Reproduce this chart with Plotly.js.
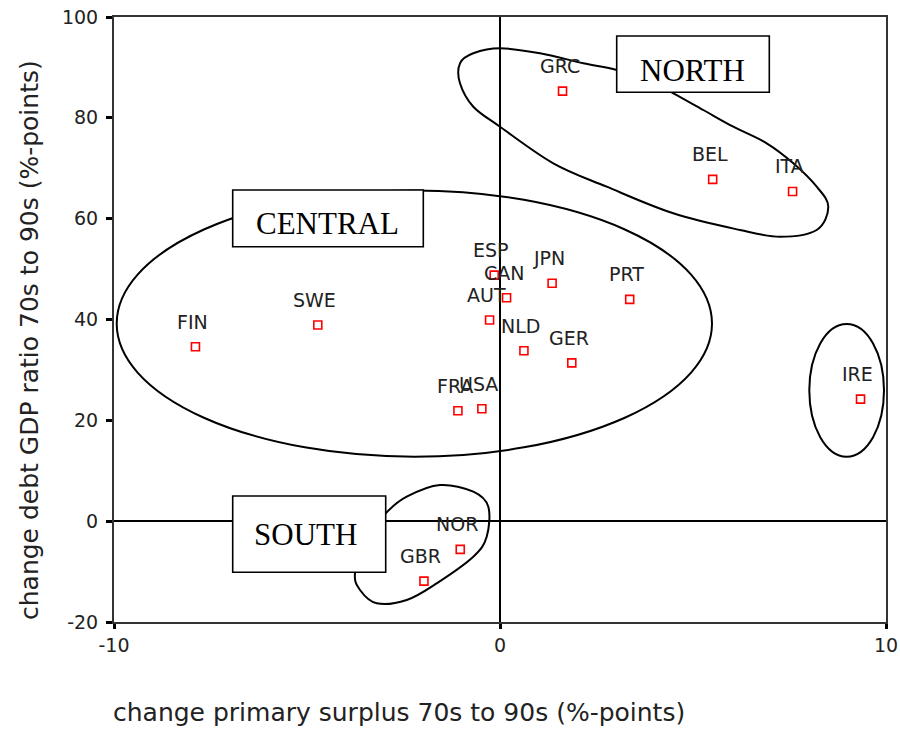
<!DOCTYPE html>
<html>
<head>
<meta charset="utf-8">
<script src="https://cdn.plot.ly/plotly-3.0.1.min.js"></script>
<style>html,body{margin:0;padding:0;background:#fff;}#chart{width:900px;height:733px;}</style>
</head>
<body>
<div id="chart"></div>
<script>
// ---- data ----
const countries = ['GRC','BEL','ITA','ESP','CAN','JPN','PRT','AUT','NLD','GER','FRA','USA','FIN','SWE','NOR','GBR','IRE'];
const surplusChange = [1.62, 5.51, 7.58, -0.15, 0.17, 1.35, 3.36, -0.27, 0.62, 1.86, -1.09, -0.47, -7.89, -4.72, -1.03, -1.97, 9.34];
const debtChange = [85.3, 67.8, 65.4, 48.8, 44.3, 47.2, 44.0, 39.9, 33.8, 31.4, 21.9, 22.3, 34.6, 38.9, -5.6, -11.9, 24.2];
const groupNames = ['NORTH', 'CENTRAL', 'SOUTH'];
const xTicks = [-10, 0, 10];
const xTickLabels = ['-10', '0', '10'];
const yTicks = [-20, 0, 20, 40, 60, 80, 100];
const yTickLabels = ['-20', '0', '20', '40', '60', '80', '100'];
const xTitle = 'change primary surplus 70s to 90s (%-points)';
const yTitle = 'change debt GDP ratio 70s to 90s (%-points)';

// ---- geometry (page pixels) ----
const W = 900, H = 733;
const M = {l: 114, r: 14, t: 17, b: 111};
const PW = W - M.l - M.r, PH = H - M.t - M.b;
const XR = [-10, 10], YR = [-20, 100];
const px2x = p => XR[0] + (p - M.l) / PW * (XR[1] - XR[0]);
const py2y = p => YR[1] - (p - M.t) / PH * (YR[1] - YR[0]);
const px2paper = p => (p - M.l) / PW;
const py2paper = p => (M.t + PH - p) / PH;

const northOutline = [[616.7,70],[583.3,63.3],[540,53.3],[500,48.3],[473.3,53.3],[460,63.3],[460,83.3],[473.3,106.7],[500,126.7],[553.3,163.3],[606.7,186.7],[673.3,213.3],[740,230],[780,236.7],[816.7,230],[828.3,206.7],[816.7,186.7],[793.3,163.3],[766.7,143.3],[733.3,126.7],[703.3,110],[673.3,93.3],[650,82]];
const southOutline = [[385.7,513.3],[406.7,496.7],[440,485],[473.3,491.7],[488.3,506.7],[486.7,536.7],[473.3,556.7],[436.7,583.3],[406.7,600],[376.7,603.3],[360,590],[355,573.3],[365,540]];
const centralEllipse = [116.7, 190.5, 712, 456.7];
const ireEllipse = [809.3, 324, 884, 456.7];
const groupBoxes = [[616.7,36,769.3,92.3],[232.7,190,423.3,246.7],[232.7,496,385.7,572.3]];
const groupTextPos = [[692,70],[327,223],[305,534]];

function smoothClosedPath(pts) {
  const n = pts.length;
  const f = (x, y) => px2x(x).toFixed(4) + ',' + py2y(y).toFixed(4);
  let d = 'M' + f(pts[0][0], pts[0][1]);
  for (let i = 0; i < n; i++) {
    const p0 = pts[(i - 1 + n) % n], p1 = pts[i], p2 = pts[(i + 1) % n], p3 = pts[(i + 2) % n];
    const c1 = [p1[0] + (p2[0] - p0[0]) / 6, p1[1] + (p2[1] - p0[1]) / 6];
    const c2 = [p2[0] - (p3[0] - p1[0]) / 6, p2[1] - (p3[1] - p1[1]) / 6];
    d += ' C' + f(c1[0], c1[1]) + ' ' + f(c2[0], c2[1]) + ' ' + f(p2[0], p2[1]);
  }
  return d + ' Z';
}

const lineStyle = {color: '#000', width: 2};
const shapes = [
  {type: 'path', xref: 'x', yref: 'y', path: smoothClosedPath(northOutline), line: lineStyle, layer: 'above'},
  {type: 'path', xref: 'x', yref: 'y', path: smoothClosedPath(southOutline), line: lineStyle, layer: 'above'},
  {type: 'circle', xref: 'x', yref: 'y', x0: px2x(centralEllipse[0]), y0: py2y(centralEllipse[1]), x1: px2x(centralEllipse[2]), y1: py2y(centralEllipse[3]), line: lineStyle, layer: 'above'},
  {type: 'circle', xref: 'x', yref: 'y', x0: px2x(ireEllipse[0]), y0: py2y(ireEllipse[1]), x1: px2x(ireEllipse[2]), y1: py2y(ireEllipse[3]), line: lineStyle, layer: 'above'}
];
groupBoxes.forEach(b => shapes.push({type: 'rect', xref: 'x', yref: 'y', x0: px2x(b[0]), y0: py2y(b[1]), x1: px2x(b[2]), y1: py2y(b[3]), line: {color: '#000', width: 1.6}, fillcolor: '#fff', layer: 'above'}));

const labelFont = {family: 'DejaVu Sans', size: 19, color: '#222'};
const annotations = countries.map((c, i) => ({
  x: surplusChange[i], y: debtChange[i], xref: 'x', yref: 'y', text: c, showarrow: false,
  xanchor: 'center', yanchor: 'middle', xshift: -3, yshift: 25, font: labelFont
}));
groupNames.forEach((g, i) => annotations.push({
  x: px2x(groupTextPos[i][0]), y: py2y(groupTextPos[i][1]), xref: 'x', yref: 'y', text: g, showarrow: false,
  xanchor: 'center', yanchor: 'middle', font: {family: 'Liberation Serif', size: 31, color: '#000'}
}));
annotations.push({x: px2paper(398.5), y: py2paper(713), xref: 'paper', yref: 'paper', text: xTitle, showarrow: false,
  xanchor: 'center', yanchor: 'middle', font: {family: 'DejaVu Sans', size: 25, color: '#222'}});
annotations.push({x: px2paper(29), y: py2paper(340), xref: 'paper', yref: 'paper', text: yTitle, showarrow: false, textangle: -90,
  xanchor: 'center', yanchor: 'middle', font: {family: 'DejaVu Sans', size: 25, color: '#222'}});

const trace = {
  x: surplusChange, y: debtChange, text: countries, type: 'scatter', mode: 'markers',
  marker: {symbol: 'square-open', size: 8, color: '#ff0000', line: {width: 1.6, color: '#ff0000'}},
  hoverinfo: 'text+x+y', cliponaxis: false
};

const axisCommon = {
  ticks: 'outside', tickcolor: '#000', tickwidth: 3,
  showline: true, mirror: true, linecolor: '#333', linewidth: 2,
  showgrid: false, zeroline: true, zerolinecolor: '#000', zerolinewidth: 1.5,
  tickfont: {family: 'DejaVu Sans', size: 19, color: '#222'}, fixedrange: true
};
const layout = {
  width: W, height: H, margin: M, paper_bgcolor: '#fff', plot_bgcolor: '#fff', showlegend: false,
  xaxis: Object.assign({}, axisCommon, {range: XR, tickmode: 'array', tickvals: xTicks, ticktext: xTickLabels, ticklen: 5, ticklabelstandoff: 0}),
  yaxis: Object.assign({}, axisCommon, {range: YR, tickmode: 'array', tickvals: yTicks, ticktext: yTickLabels, ticklen: 6, ticklabelstandoff: 4}),
  shapes: shapes, annotations: annotations
};
Plotly.newPlot('chart', [trace], layout, {displayModeBar: false, staticPlot: true});
</script>
</body>
</html>
